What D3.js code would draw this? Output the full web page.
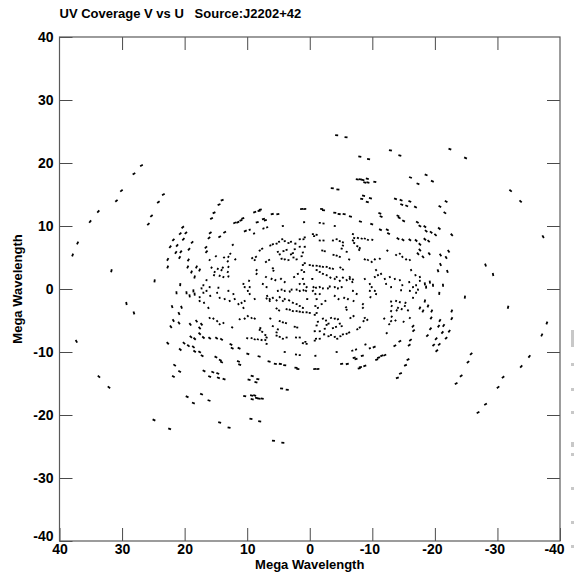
<!DOCTYPE html>
<html>
<head>
<meta charset="utf-8">
<script src="https://cdn.jsdelivr.net/npm/d3@7"></script>
<style>
  body { margin: 0; background: #fff; }
  svg text { font-family: "Liberation Sans", Arial, Helvetica, sans-serif; font-weight: bold; fill: #000; }
</style>
</head>
<body>
<svg id="chart" width="575" height="572"></svg>
<script>
// measured (u, v) samples in Mega Wavelength, upper half plane (v >= 0);
// the conjugate visibilities (-u, -v) are drawn as well, as in any uv plot
var uvOuterLeft = [
    [26.9,19.6],[28.1,18.3],[30.1,15.6],[30.9,14.0],[33.8,12.3],[35.1,10.7],[37.1,7.3],[37.9,5.4],
    [23.4,15.0],[24.2,13.8],[25.3,11.6],[25.8,10.3],[31.7,2.9],[24.8,1.3],
    [20.3,9.8],[20.7,8.8],[20.2,7.9],[21.8,7.8],[22.3,6.7],[21.2,6.9],[21.4,5.8],[20.6,5.9],
    [22.7,4.7],[20.8,5.0],[22.7,3.5],[20.7,0.7]
];
var uvInnerLeft = [
    [14.0,14.1],[14.5,13.4],[7.9,12.6],[1.3,12.7],[0.8,12.7],
    [15.3,12.1],[15.7,11.2],[8.8,12.2],[8.1,12.4],[5.1,11.9],[6.0,11.9],[0.9,10.6],
    [12.0,10.5],[11.5,10.6],[11.0,10.9],[10.7,11.2],[8.4,10.6],[7.4,11.1],[7.1,10.9],
    [7.4,9.6],[6.8,9.8],[4.3,10.0],[10.3,9.2],[9.6,9.4],[8.9,8.8],[13.6,9.0],[14.4,8.3],[15.9,8.9],[16.1,8.1],
    [19.8,8.9],[18.8,7.4],[19.3,6.3],[16.6,6.6],[16.5,5.9],[15.0,5.2],[16.0,4.6],[12.3,7.0],
    [13.0,5.1],[13.7,5.0],[13.1,4.4],[11.9,4.7],[12.7,5.6],[8.0,6.1],[7.6,6.4],[9.2,4.9],[8.8,4.6],[8.6,5.1],
    [6.3,6.9],[5.9,7.1],
    [5.3,7.2],[4.9,7.5],[4.4,7.9],[4.0,7.6],[3.4,7.3],[3.0,7.5],[2.3,7.2],[1.6,7.9],[1.0,7.9],[0.8,8.2],
    [5.1,5.9],[4.8,5.5],[4.2,6.0],[3.7,6.2],[3.0,5.5],[2.7,5.7],[2.4,6.3],[1.6,6.7],[1.1,5.8],[0.8,6.7],
    [4.5,4.8],[4.0,4.7],[3.4,4.6],[2.6,5.0],[2.1,4.7],[1.3,5.2],[1.1,3.8],[0.8,4.1],
    [7.0,4.3],[6.5,4.6],[5.9,3.3],[5.8,2.9],[8.5,3.0],[8.5,2.4],[7.0,1.9],[6.1,1.6],[5.5,1.4],[4.6,1.6],[4.0,1.1],
    [2.5,1.9],[1.9,2.4],[1.3,3.0],[0.9,2.7],[1.1,1.6],[1.6,0.8],[0.9,0.8],[0.5,0.3],
    [7.5,0.8],[6.9,0.3],[10.6,0.8],[10.4,0.3],[9.6,0.3],[9.7,1.3],
    [15.7,3.4],[15.2,2.7],[14.7,3.2],[14.1,3.0],[13.9,3.4],[14.4,2.1],[13.8,1.9],[13.0,2.0],[15.3,2.2],
    [18.1,3.5],[17.6,3.0],[18.9,2.7],[19.4,4.6],[19.5,3.5],[18.4,1.9],[17.0,0.6],[16.5,1.4],[16.0,0.3],
    [14.6,0.2],[17.3,0.1],[13.0,3.5],[13.1,2.7]
];
var uvInnerRight = [
    [-4.3,24.4],[-5.8,24.1],[-8.0,21.0],[-9.4,20.6],[-12.9,22.0],[-14.4,21.2],[-18.6,18.1],[-19.6,17.1],
    [-16.1,17.7],[-17.3,16.7],
    [-7.6,17.4],[-8.1,17.4],[-8.5,17.3],[-9.2,17.5],[-9.3,16.9],[-8.8,16.9],[-10.4,17.0],
    [-3.6,16.0],[-4.5,15.8],[-8.6,14.8],[-8.3,14.3],[-9.7,14.4],[-9.2,13.8],
    [-13.7,14.3],[-14.6,14.1],[-14.7,13.4],[-15.5,13.2],[-16.0,13.9],[-16.9,13.0],[-1.9,12.7],[-2.2,12.5],
    [-4.0,12.1],[-4.7,11.9],[-5.5,11.9],[-6.5,11.5],[-11.2,12.0],[-11.4,11.5],[-14.1,11.6],[-14.3,11.3],
    [-1.6,10.5],[-2.2,10.4],[-4.0,10.0],[-8.1,10.7],[-9.9,10.3],[-12.4,9.4],[-12.6,8.8],[-15.0,10.8],
    [-17.2,10.6],[-17.6,10.0],[-18.4,9.9],[-18.6,9.2],[-11.3,9.4],
    [-0.5,8.7],[-0.7,8.4],[-1.1,8.6],[-1.6,7.7],[-2.2,7.7],[-3.7,7.7],[-4.3,7.9],[-4.8,7.6],[-5.3,7.4],
    [-6.9,8.7],[-7.1,8.1],[-6.9,7.7],[-7.1,7.3],[-7.7,8.1],[-8.3,8.0],[-8.8,8.0],[-9.3,7.8],[-10.0,7.8],
    [-14.1,8.0],[-14.9,7.8],[-16.0,7.8],[-17.0,7.7],[-17.6,7.1],[-18.4,7.9],[-19.0,7.6],[-19.4,9.0],
    [-7.6,6.8],[-7.9,6.2],[-8.0,6.5],[-5.3,6.9],[-5.1,6.4],[-5.9,5.9],[-6.3,4.7],[-2.0,6.1],[-2.4,6.0],
    [-3.8,5.4],[-4.3,5.3],[-4.8,5.1],
    [-12.4,6.1],[-13.8,5.4],[-14.4,5.6],[-14.8,5.1],[-15.4,4.7],[-16.0,4.6],
    [-8.8,4.7],[-9.3,4.6],[-9.9,4.3],[-10.4,4.7],[-11.2,4.8],[-17.3,5.6],[-17.6,6.2],[-18.1,5.1],[-19.1,5.6],
    [0.0,3.8],[-0.5,3.7],[-1.1,3.7],[-1.6,3.6],[-2.1,3.5],[-2.7,3.5],[-3.2,3.3],[-3.7,3.2],
    [-1.1,3.0],[-1.6,2.7],[-2.1,2.4],[-2.7,2.2],[-3.3,1.8],[-4.0,1.6],
    [-4.3,1.9],[-4.8,1.3],[-5.3,1.8],[-5.9,1.4],[-6.4,1.6],[-6.8,1.1],[-4.9,3.4],[-5.3,3.1],[-6.4,1.9],[-6.9,1.5],
    [-0.4,1.6],[-0.6,0.3],[-1.0,0.2],[-1.6,0.3],[-2.1,0.1],[-2.9,0.1],[-3.2,0.4],[-4.0,0.3],[-4.5,0.1],[-5.1,0.3],
    [-8.8,1.6],[-9.6,0.8],[-9.9,0.3],[-10.6,3.0],[-10.9,2.2],[-10.4,1.9],[-11.4,2.4],[-12.0,1.6],[-12.2,0.8],[-13.0,0.3],
    [-12.8,1.9],[-13.6,1.6],[-14.4,1.4],[-14.8,0.6],[-15.9,1.1],[-16.5,0.3],[-17.0,0.6],[-17.6,1.3],[-18.4,0.8],
    [-18.6,0.3],[-19.2,1.1],[-19.7,0.6],
    [-16.2,3.0],[-16.9,2.2],[-17.6,1.9]
];
var uvOuterRight = [
    [-22.4,22.2],[-24.9,20.8],[-32.1,15.6],[-33.7,13.9],[-21.8,13.9],[-20.8,13.1],[-21.6,12.1],
    [-20.7,9.6],[-20.1,8.6],[-22.7,8.6],[-37.3,8.3],[-22.2,6.0],[-21.8,5.0],[-20.9,5.4],[-20.9,3.9],
    [-20.5,2.9],[-22.0,2.8],[-28.1,3.8],[-29.3,2.3],[-21.3,0.6]
];

var tickValues = [-40, -30, -20, -10, 0, 10, 20, 30, 40];
var titleText = "UV Coverage V vs U   Source:J2202+42";
var axisTitle = "Mega Wavelength";

var svg = d3.select("#chart");
var plotL = 59.5, plotR = 560, plotT = 37, plotB = 541;

var x = d3.scaleLinear().domain([40, -40]).range([plotL, plotR]);
var y = d3.scaleLinear().domain([-40, 40]).range([plotB, plotT]);

// inward ticks on all four sides
function styleAxis(g) {
    g.select(".domain").remove();
    g.selectAll(".tick line").attr("stroke", "#4a4a4a").attr("stroke-width", 1);
    g.selectAll(".tick text").attr("font-size", 14).attr("font-weight", "bold")
        .attr("font-family", '"Liberation Sans", Arial, sans-serif').attr("fill", "#000");
}
var fmt = d => String(d);

svg.append("g").attr("transform", "translate(0," + plotB + ")")
    .call(d3.axisBottom(x).tickValues(tickValues).tickSizeInner(-13).tickSizeOuter(0).tickPadding(3).tickFormat(fmt))
    .call(styleAxis)
    .call(g => g.selectAll(".tick text").attr("dx", d => d < 0 ? (d == -40 ? -6 : -3) : 0));
svg.append("g").attr("transform", "translate(0," + plotT + ")")
    .call(d3.axisTop(x).tickValues(tickValues.slice(1, -1)).tickSizeInner(-13).tickSizeOuter(0).tickFormat(""))
    .call(styleAxis);
svg.append("g").attr("transform", "translate(" + plotL + ",0)")
    .call(d3.axisLeft(y).tickValues(tickValues).tickSizeInner(-13).tickSizeOuter(0).tickPadding(6).tickFormat(fmt))
    .call(styleAxis)
    .call(g => g.selectAll(".tick text").filter(d => d == -40).attr("y", -5));
svg.append("g").attr("transform", "translate(" + plotR + ",0)")
    .call(d3.axisRight(y).tickValues(tickValues.slice(1, -1)).tickSizeInner(-13).tickSizeOuter(0).tickFormat(""))
    .call(styleAxis);

svg.append("rect")
    .attr("x", plotL).attr("y", plotT)
    .attr("width", plotR - plotL).attr("height", plotB - plotT)
    .attr("fill", "none").attr("stroke", "#5a5a5a").attr("stroke-width", 1.2);

// uv samples, each drawn as a short dash along its elliptical track
var all = [].concat(uvOuterLeft, uvInnerLeft, uvInnerRight, uvOuterRight);
var pts = [];
all.forEach(p => {
    pts.push(p);
    pts.push([-p[0], -p[1]]);
});
var ratio = 0.62;
function dash(p) {
    let tu = -p[1] / (ratio * ratio), tv = p[0];
    let dx = -tu, dy = -tv;
    let n = Math.sqrt(dx * dx + dy * dy) || 1;
    let r = Math.hypot(p[0], p[1] / ratio);
    let half = r > 18 ? 1.5 : 1.0;
    dx = dx / n * half; dy = dy / n * half;
    let cx = x(p[0]), cy = y(p[1]);
    return "M" + (cx - dx) + "," + (cy - dy) + "L" + (cx + dx) + "," + (cy + dy);
}
svg.append("g").selectAll("path")
    .data(pts).enter().append("path")
    .attr("d", dash)
    .attr("stroke", "#000")
    .attr("stroke-width", 1.8)
    .attr("fill", "none");

// titles
svg.append("text").attr("x", plotL).attr("y", 18)
    .attr("font-size", 13)
    .style("white-space", "pre")
    .text(titleText);
svg.append("text").attr("x", x(0)).attr("y", 569)
    .attr("text-anchor", "middle").attr("font-size", 13)
    .text(axisTitle);
svg.append("text")
    .attr("transform", "translate(22," + y(0) + ") rotate(-90)")
    .attr("text-anchor", "middle").attr("font-size", 13)
    .text(axisTitle);

// faint marks cut off at the right edge of the picture
var edgeMarks = [[330, 17], [363, 3], [388, 3], [411, 3], [442, 5], [453, 3], [487, 3], [521, 3], [545, 3]];
svg.append("g").selectAll("rect")
    .data(edgeMarks).enter().append("rect")
    .attr("x", 571).attr("y", d => d[0])
    .attr("width", 3).attr("height", d => d[1])
    .attr("fill", "#c8c8c8");
</script>
</body>
</html>
